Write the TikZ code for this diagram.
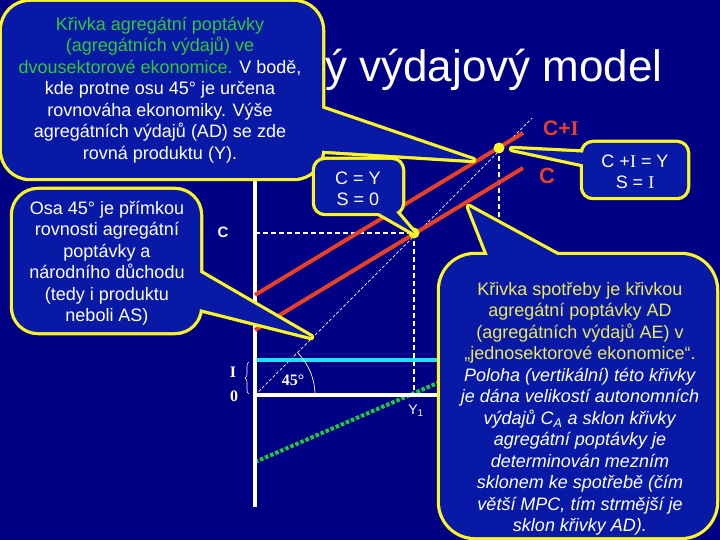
\documentclass[tikz,border=0pt]{standalone}
\usepackage{fontspec}
\setmainfont{Liberation Sans}
\newfontfamily\timesfont{Liberation Serif}
\usepackage{xcolor}
\usetikzlibrary{decorations.pathreplacing}
\definecolor{slidebg}{RGB}{0,0,132}
\definecolor{noteblue}{RGB}{8,26,165}
\definecolor{noteyellow}{RGB}{250,245,40}
\definecolor{notegreen}{RGB}{50,200,60}
\definecolor{notekhaki}{RGB}{235,232,95}
\definecolor{curvered}{RGB}{232,64,36}
\definecolor{invcyan}{RGB}{30,225,245}
\definecolor{savgreen}{RGB}{30,200,60}

\begin{document}
\begin{tikzpicture}[x=1pt, y=-1pt,
  note/.style={fill=noteblue, preaction={draw=noteyellow, line width=6.5pt}, inner sep=0pt},
  tip/.style={fill=noteblue, draw=noteyellow, line width=6.5pt, line join=round},
  tipfill/.style={fill=noteblue},
  notetext/.style={align=center, text=white, inner sep=0pt, font=\fontsize{18}{21.5}\selectfont},
  axis/.style={white, line width=4pt},
  curve/.style={curvered, line width=4pt},
  guide/.style={white, line width=1.6pt, dash pattern=on 5pt off 3pt},
  diag/.style={white, line width=0.7pt, dash pattern=on 3pt off 2pt},
  every node/.style={text=white}
]
\useasboundingbox (0,0) rectangle (720,540);
\fill[slidebg] (0,0) rectangle (720,540);

% Title
\node[anchor=base west, inner sep=0pt, font=\fontsize{44}{50}\selectfont] (title) at (325,82) {ý výdajový model};

% Graph points
\coordinate (O) at (255,395);
\coordinate (ytop) at (255,140);
\coordinate (ybot) at (255,507);
\coordinate (xend) at (560,395);
\coordinate (E1) at (414,233);
\coordinate (E2) at (499,148);
\coordinate (CIa) at (255,295);
\coordinate (CIb) at (523,133);
\coordinate (Ca) at (255,330);
\coordinate (Cb) at (523,168);
\coordinate (Ia) at (255,360);
\coordinate (Ib) at (560,360);
\coordinate (Sa) at (255,462);
\coordinate (Sb) at (470,369);
\coordinate (diagend) at (532,118);
\coordinate (cyaxis) at (255,233);
\coordinate (E1x) at (414,395);
\coordinate (E2x) at (499,395);

% Axes and lines
\draw[diag] (O) -- (diagend);
\draw[guide] (cyaxis) -- (E1);
\draw[guide] (E1) -- (E1x);
\draw[guide] (E2) -- (E2x);
\draw[invcyan, line width=4pt] (Ia) -- (Ib);
\draw[savgreen, line width=4pt, dash pattern=on 3.5pt off 2pt] (Sa) -- (Sb);
\draw[axis] (ytop) -- (ybot);
\draw[axis] (O) -- (xend);
\draw[curve] (CIa) -- (CIb);
\draw[curve] (Ca) -- (Cb);
\draw[white, line width=0.7pt] (315,395) arc[start angle=0, end angle=45, radius=60pt];
\draw[white, line width=0.6pt, decorate, decoration={brace, amplitude=4pt}] (249,394) -- (249,362);
\fill[noteyellow] (E1) circle[radius=5.5pt];
\fill[noteyellow] (E2) circle[radius=5.5pt];

% Axis labels
\node[font=\bfseries\fontsize{15}{18}\selectfont] (clabel) at (223,232) {C};
\node[font=\timesfont\bfseries\fontsize{16}{18}\selectfont] (ilabel) at (233,372) {I};
\node[font=\timesfont\bfseries\fontsize{16}{18}\selectfont] (zero) at (234,396) {0};
\node[font=\timesfont\bfseries\fontsize{16}{18}\selectfont] (angle) at (293,380) {45°};
\node[font=\fontsize{14}{16}\selectfont] (yone) at (416,411) {Y\textsubscript{1}};
\node[text=curvered, font=\bfseries\fontsize{21}{24}\selectfont] (cilabel) at (561,128) {C+{\timesfont I}};
\node[text=curvered, font=\bfseries\fontsize{22}{24}\selectfont] (ccurve) at (547,176) {C};

% Note on aggregate demand
\coordinate (adtip) at (473,160);
\filldraw[tip] (312,105) -- (adtip) -- (312,150) -- cycle;
\node[note, rounded corners=28pt, minimum width=320pt, minimum height=176pt] (adnote) at (162,90) {};
\fill[tipfill] (312,105) -- (adtip) -- (312,150) -- cycle;
\node[notetext] (adtext) at (160,90) {\textcolor{notegreen}{Křivka agregátní poptávky}\\
  \textcolor{notegreen}{(agregátních výdajů) ve}\\
  \textcolor{notegreen}{dvousektorové ekonomice.} V bodě,\\
  kde protne osu 45° je určena\\
  rovnováha ekonomiky. Výše\\
  agregátních výdajů (AD) se zde\\
  rovná produktu (Y).};

% Note C = Y
\filldraw[tip] (365,205) -- (E1) -- (390,205) -- cycle;
\node[note, rounded corners=10pt, minimum width=87pt, minimum height=53pt] (cynote) at (358.5,186.5) {};
\fill[tipfill] (365,205) -- (E1) -- (390,205) -- cycle;
\node[notetext] (cytext) at (358,189) {C = Y\\S = 0};

% Note C + I = Y
\coordinate (citip) at (512,149);
\filldraw[tip] (591,153) -- (citip) -- (591,166) -- cycle;
\node[note, rounded corners=10pt, minimum width=104pt, minimum height=54pt] (cinote) at (635,170) {};
\fill[tipfill] (591,153) -- (citip) -- (591,166) -- cycle;
\node[notetext] (citext) at (635,172) {C +{\timesfont I} = Y\\S = {\timesfont I}};

% Note on the 45 degree line
\coordinate (axtip) at (311,337);
\filldraw[tip] (192,268) -- (axtip) -- (192,307) -- cycle;
\node[note, rounded corners=25pt, minimum width=187pt, minimum height=142pt] (axisnote) at (106.5,261) {};
\fill[tipfill] (192,268) -- (axtip) -- (192,307) -- cycle;
\node[notetext] (axistext) at (107,263) {Osa 45° je přímkou\\
  rovnosti agregátní\\
  poptávky a\\
  národního důchodu\\
  (tedy i produktu\\
  neboli AS)};

% Note on the consumption curve
\coordinate (ctip) at (469,207);
\filldraw[tip] (491,263) -- (ctip) -- (572,263) -- cycle;
\node[note, rounded corners=35pt, minimum width=276pt, minimum height=282pt] (cnote) at (578,396) {};
\fill[tipfill] (491,263) -- (ctip) -- (572,263) -- cycle;
\node[notetext] (ctext) at (580,409) {\textcolor{notekhaki}{Křivka spotřeby je křivkou}\\
  \textcolor{notekhaki}{agregátní poptávky AD}\\
  \textcolor{notekhaki}{(agregátních výdajů AE) v}\\
  \textcolor{notekhaki}{„jednosektorové ekonomice“.}\\
  \textit{Poloha (vertikální) této křivky}\\
  \textit{je dána velikostí autonomních}\\
  \textit{výdajů C\textsubscript{A} a sklon křivky}\\
  \textit{agregátní poptávky je}\\
  \textit{determinován mezním}\\
  \textit{sklonem ke spotřebě (čím}\\
  \textit{větší MPC, tím strmější je}\\
  \textit{sklon křivky AD).}};

\end{tikzpicture}
\end{document}
